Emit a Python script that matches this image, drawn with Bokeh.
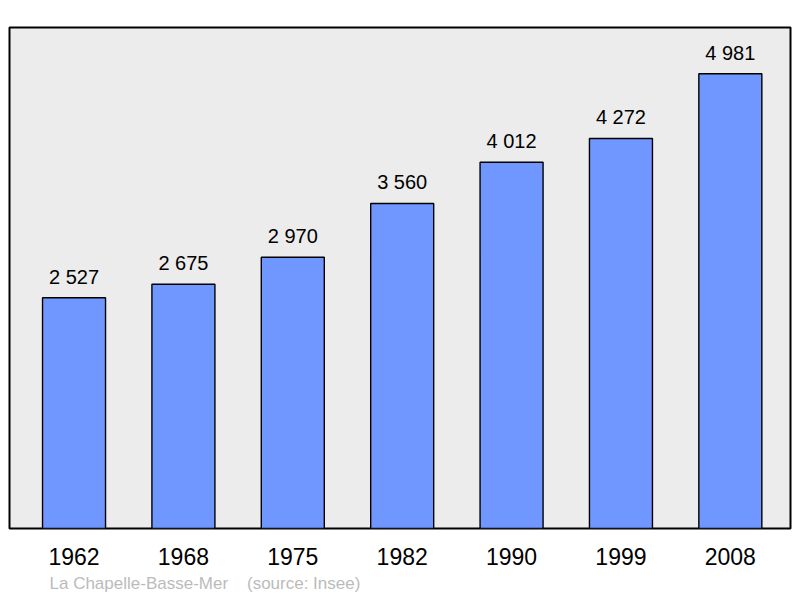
from bokeh.plotting import figure
from bokeh.models import Range1d, FixedTicker, Title, ColumnDataSource
from bokeh.core.properties import value
from bokeh.embed import file_html
from bokeh.resources import INLINE

years = ["1962", "1968", "1975", "1982", "1990", "1999", "2008"]
population = [2527, 2675, 2970, 3560, 4012, 4272, 4981]
labels = ["2 527", "2 675", "2 970", "3 560", "4 012", "4 272", "4 981"]
footer = "La Chapelle-Basse-Mer\u00a0\u00a0\u00a0\u00a0(source: Insee)"

xs = list(range(len(years)))
src = ColumnDataSource(dict(x=xs, top=population, lab=labels))

p = figure(width=798, height=596, output_backend="svg", toolbar_location=None,
           x_range=Range1d(-0.59, 6.55), y_range=Range1d(0, 5487),
           min_border_left=9, min_border_right=8, min_border_top=27, min_border_bottom=4)
p.background_fill_color = "#ececec"
p.border_fill_color = "white"
p.outline_line_color = "black"
p.outline_line_width = 2
p.xgrid.visible = False
p.ygrid.visible = False
p.yaxis.visible = False

p.vbar(x="x", top="top", bottom=0, width=0.576, source=src,
       fill_color="#7097ff", line_color="black", line_width=1.4)
p.text(x="x", y="top", text="lab", source=src, y_offset=-21,
       text_align="center", text_baseline="alphabetic",
       text_font=value("Liberation Sans"), text_font_size="20px", text_color="black")

ax = p.xaxis[0]
ax.ticker = FixedTicker(ticks=xs)
ax.major_label_overrides = {i: y for i, y in zip(xs, years)}
ax.axis_line_color = None
ax.major_tick_line_color = None
ax.minor_tick_line_color = None
ax.major_tick_out = 0
ax.major_label_standoff = 19
ax.major_label_text_font = "Liberation Sans"
ax.major_label_text_font_size = "23px"
ax.major_label_text_color = "black"

p.add_layout(Title(text=footer, align="left", offset=40, standoff=8,
                   text_font="Liberation Sans", text_font_size="17px",
                   text_font_style="normal", text_color="#bbbbbb"), "below")

open("out.html", "w").write(file_html(p, INLINE))
